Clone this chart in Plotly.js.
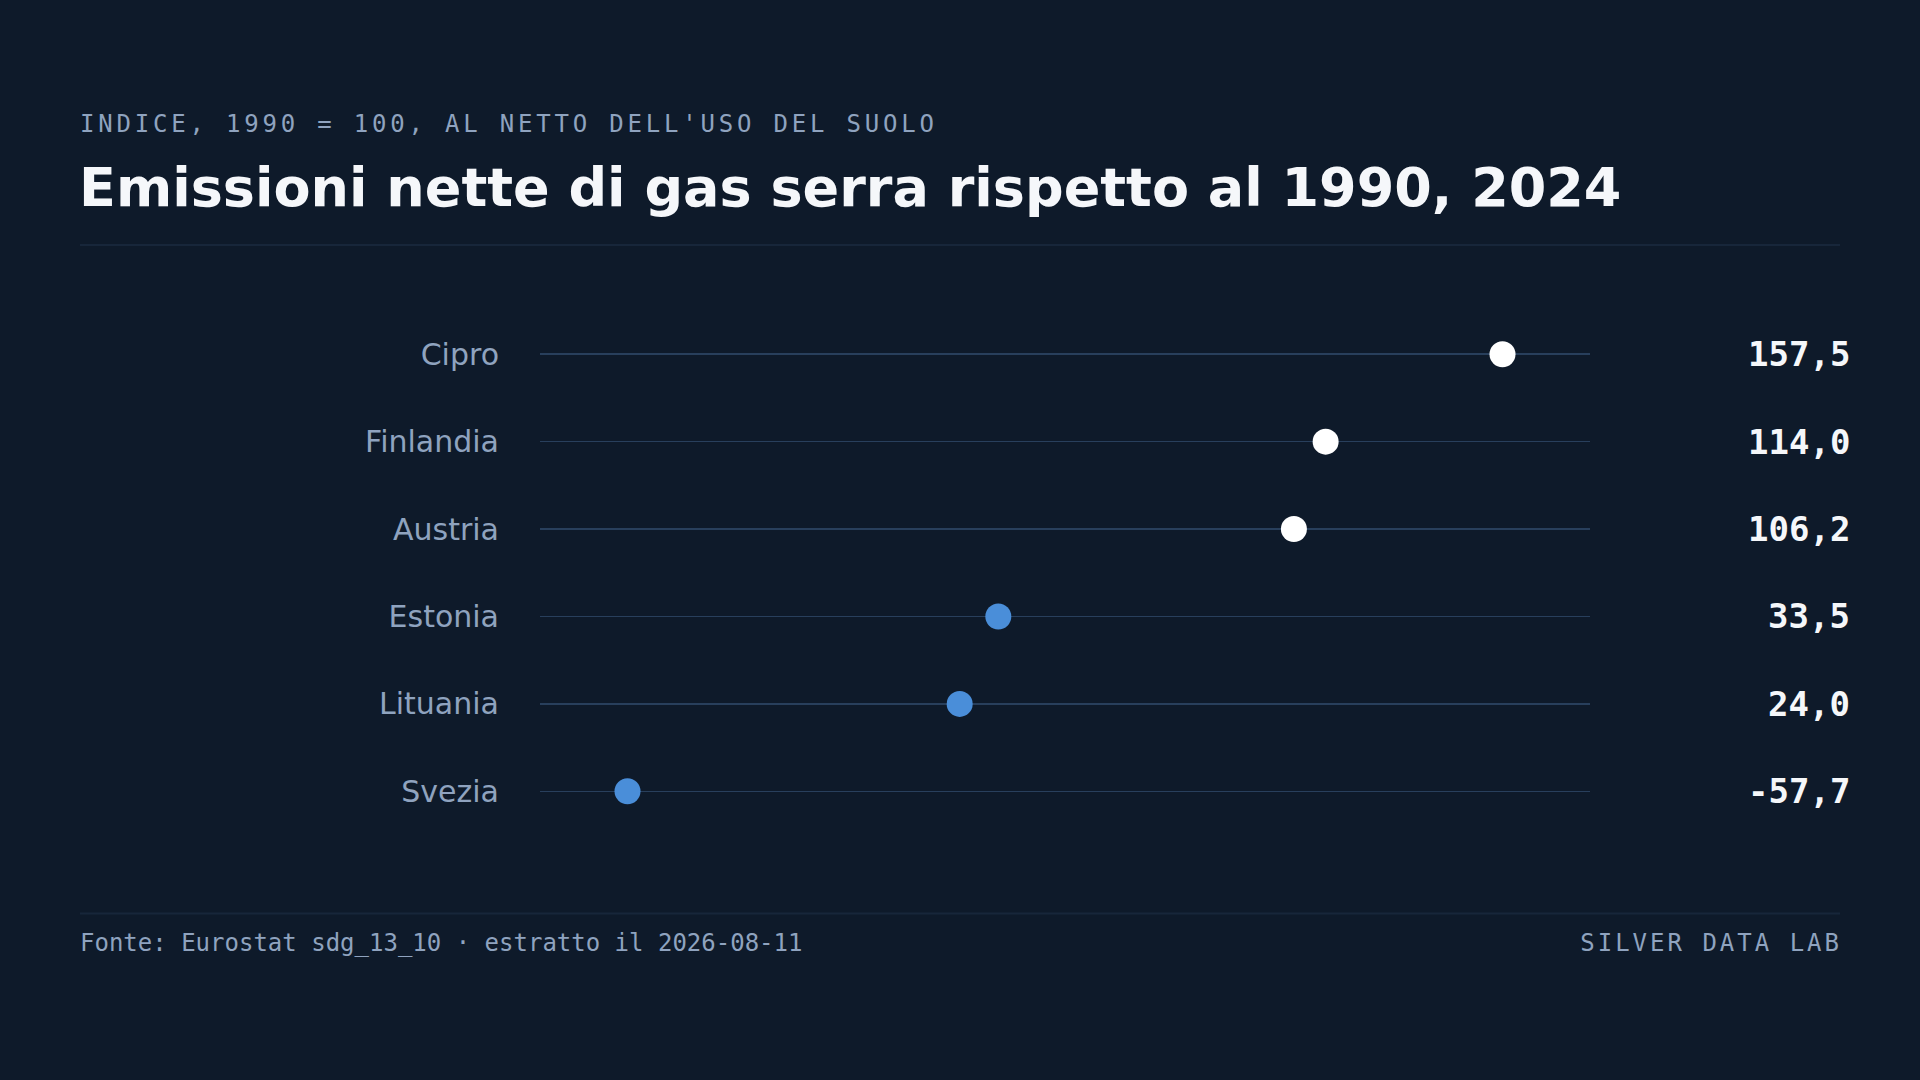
<!DOCTYPE html>
<html>
<head>
<meta charset="utf-8">
<script src="https://cdn.plot.ly/plotly-3.0.1.min.js"></script>
<style>
  html, body { margin: 0; padding: 0; background: #0e1a2a; }
  #chart { width: 1920px; height: 1080px; }
</style>
</head>
<body>
<div id="chart"></div>
<script>
// dati: indice 1990 = 100
const countries = ["Svezia", "Lituania", "Estonia", "Austria", "Finlandia", "Cipro"];
const values = [-57.7, 24.0, 33.5, 106.2, 114.0, 157.5];

const W = 1920, H = 1080;
const px = x => x / W;
const py = y => 1 - y / H;

const bg = "#0e1a2a";
const white = "#ffffff";
const blue = "#4a8ed9";
const muted = "#8fa3bf";

const fmt = v => v.toFixed(1).replace(".", ",");

const colors = values.map(v => v > 100 ? white : blue);

const lo = Math.min(...values), hi = Math.max(...values);
const pad = (hi - lo) * 0.1;

const trace = {
    x: values,
    y: countries,
    type: "scatter",
    mode: "markers",
    marker: { size: 26, color: colors, line: { width: 0 } },
    hoverinfo: "skip",
    cliponaxis: false
};

const annotations = [
    {
        text: "INDICE, 1990 = 100, AL NETTO DELL'USO DEL SUOLO",
        xref: "paper", yref: "paper", x: px(80), y: py(124),
        xanchor: "left", yanchor: "middle", showarrow: false,
        font: { family: "DejaVu Sans Mono", size: 24, color: muted }
    },
    {
        text: "<b>Emissioni nette di gas serra rispetto al 1990, 2024</b>",
        xref: "paper", yref: "paper", x: px(77), y: py(187),
        xanchor: "left", yanchor: "middle", showarrow: false,
        font: { family: "DejaVu Sans", size: 54, color: "#f5f7fa" }
    },
    {
        text: "Fonte: Eurostat sdg_13_10 · estratto il 2026-08-11",
        xref: "paper", yref: "paper", x: px(78), y: py(943),
        xanchor: "left", yanchor: "middle", showarrow: false,
        font: { family: "DejaVu Sans Mono", size: 24, color: muted }
    },
    {
        text: "SILVER DATA LAB",
        xref: "paper", yref: "paper", x: px(1840), y: py(943),
        xanchor: "right", yanchor: "middle", showarrow: false,
        font: { family: "DejaVu Sans Mono", size: 24, color: muted }
    }
];

countries.forEach((c, i) => {
    annotations.push({
        text: "<b>" + fmt(values[i]) + "</b>",
        xref: "paper", yref: "y", x: px(1852), y: c,
        xanchor: "right", yanchor: "middle", showarrow: false,
        font: { family: "DejaVu Sans Mono", size: 34, color: "#f5f7fa" }
    });
});

const layout = {
    width: W, height: H,
    paper_bgcolor: bg, plot_bgcolor: bg,
    margin: { l: 0, r: 0, t: 0, b: 0 },
    showlegend: false,
    xaxis: {
        domain: [px(540), px(1590)],
        range: [lo - pad, hi + pad],
        showgrid: false, zeroline: false, showticklabels: false, showline: false
    },
    yaxis: {
        domain: [py(835), py(310.5)],
        type: "category",
        categoryorder: "array", categoryarray: countries,
        range: [-0.5, 5.5],
        showgrid: true, gridcolor: "#283f5c", gridwidth: 1.5,
        zeroline: false, showline: false, ticks: "",
        ticklabelstandoff: 40,
        tickfont: { family: "DejaVu Sans", size: 30, color: muted }
    },
    shapes: [
        { type: "line", xref: "paper", yref: "paper", x0: px(80), x1: px(1840), y0: py(245), y1: py(245),
          line: { color: "#17263a", width: 2 } },
        { type: "line", xref: "paper", yref: "paper", x0: px(80), x1: px(1840), y0: py(913.5), y1: py(913.5),
          line: { color: "#17263a", width: 2 } }
    ],
    annotations: annotations
};

// spaziatura lettere, poi riallineo il testo al bordo voluto
function spaced(gd, match, spacing, edge, side) {
    const box0 = gd.getBoundingClientRect();
    gd.querySelectorAll(".annotation-text").forEach(t => {
        if (t.textContent !== match) return;
        t.setAttribute("letter-spacing", spacing + "px");
        const r = t.getBoundingClientRect();
        const cur = side === "left" ? r.left - box0.left : r.right - box0.left - spacing;
        t.setAttribute("transform", "translate(" + (edge - cur) + ",0)");
    });
}

Plotly.newPlot("chart", [trace], layout, { displayModeBar: false, staticPlot: true }).then(gd => {
    spaced(gd, "INDICE, 1990 = 100, AL NETTO DELL'USO DEL SUOLO", 3.8, 80, "left");
    spaced(gd, "SILVER DATA LAB", 3, 1839, "right");
});
</script>
</body>
</html>
